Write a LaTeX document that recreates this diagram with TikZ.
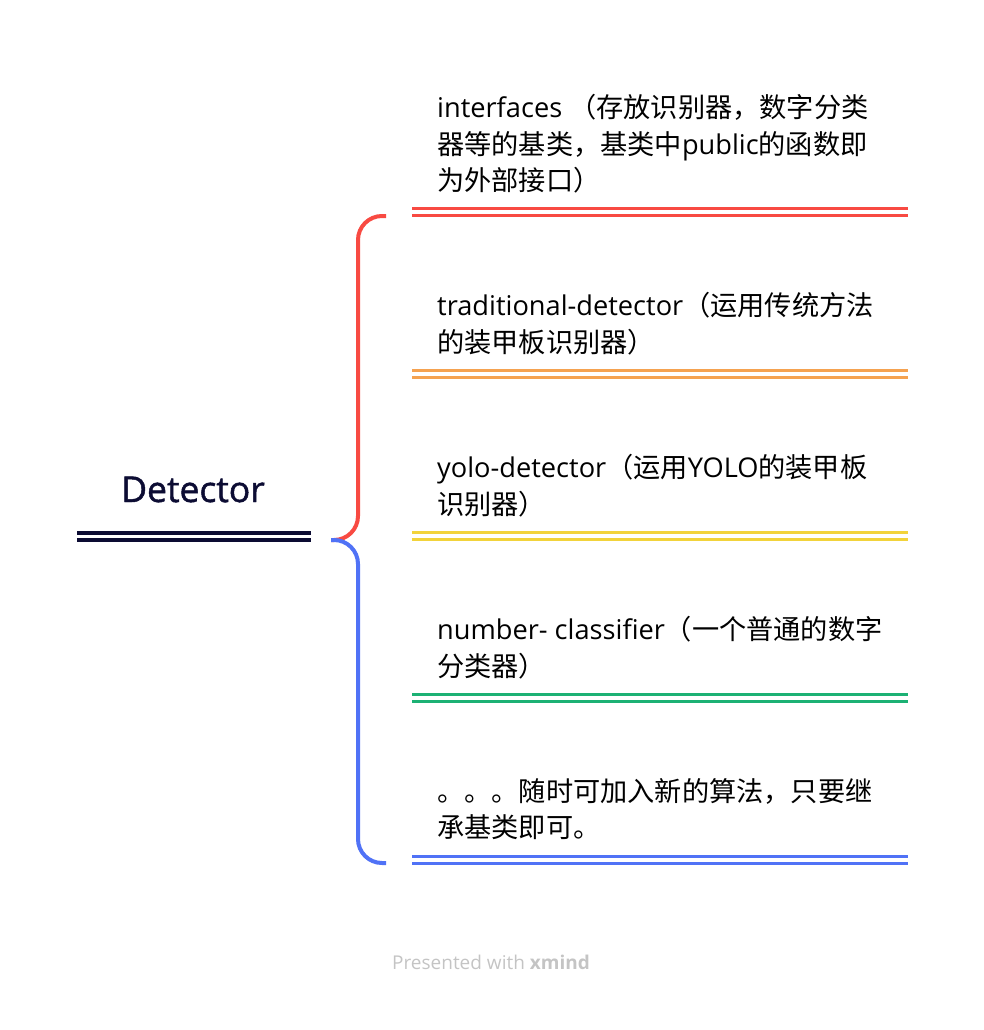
\documentclass[tikz,border=0pt]{standalone}
\usepackage{fontspec}
\setmainfont{Open Sans}
\newfontfamily\cjk{Noto Sans CJK SC}
\newfontfamily\rootfont[FakeBold=1.3]{Open Sans}
\usepackage{tikz}

\definecolor{rootnavy}{HTML}{0C0C33}
\definecolor{tred}{HTML}{F84A42}
\definecolor{torange}{HTML}{F5A250}
\definecolor{tyellow}{HTML}{F2D33B}
\definecolor{tgreen}{HTML}{1CB174}
\definecolor{tblue}{HTML}{5072F6}
\definecolor{footgray}{HTML}{C4C4C4}

\begin{document}
\begin{tikzpicture}[x=1pt,y=-1pt,line cap=butt,
  topic/.style={anchor=north west,inner sep=0pt,align=left,
    font=\fontsize{27.2}{36.2}\selectfont},
  twin/.style={double=white,double distance=4.4pt,line width=3pt},
  brace/.style={line width=4pt,rounded corners=24pt}]
\useasboundingbox (0,0) rectangle (984,1030);

% root
\node[anchor=base,inner sep=0pt,text=rootnavy,font=\rootfont\fontsize{35.5}{40}\selectfont] (detector) at (193,502) {Detector};
\coordinate (rootL) at (77,536.5);
\coordinate (rootR) at (311,536.5);
\draw[rootnavy,double=white,double distance=3.4pt,line width=4pt] (rootL)--(rootR);

% brace
\coordinate (hub) at (331,540);
\coordinate (up) at (386,216);
\coordinate (down) at (386,863);
\draw[tred,brace] (hub) -- ++(27,0) |- (up);
\draw[tblue,brace] (hub) -- ++(27,0) |- (down);

% topics
\node[topic] (iface) at (437,94.5) {interfaces {\cjk （存放识别器，数字分类}\\{\cjk 器等的基类，基类中}public{\cjk 的函数即}\\{\cjk 为外部接口）}};
\draw[tred,twin] (412,212)--(908,212);

\node[topic] (tradi) at (437,292.5) {traditional-detector{\cjk （运用传统方法}\\{\cjk 的装甲板识别器）}};
\draw[torange,twin] (412,374)--(908,374);

\node[topic] (yolo) at (437,454.5) {yolo-detector{\cjk （运用}YOLO{\cjk 的装甲板}\\{\cjk 识别器）}};
\draw[tyellow,twin] (412,536)--(908,536);

\node[topic] (numcls) at (437,616.5) {number- classifier{\cjk （一个普通的数字}\\{\cjk 分类器）}};
\draw[tgreen,twin] (412,698)--(908,698);

\node[topic] (more) at (437,778.5) {{\cjk 。。。随时可加入新的算法，只要继}\\{\cjk 承基类即可。}};
\draw[tblue,twin] (412,860)--(908,860);

% footer
\node[anchor=base,inner sep=0pt,text=footgray,font=\fontsize{19}{22}\selectfont] (footer) at (491,969) {Presented with \textbf{xmind}};

\end{tikzpicture}
\end{document}
